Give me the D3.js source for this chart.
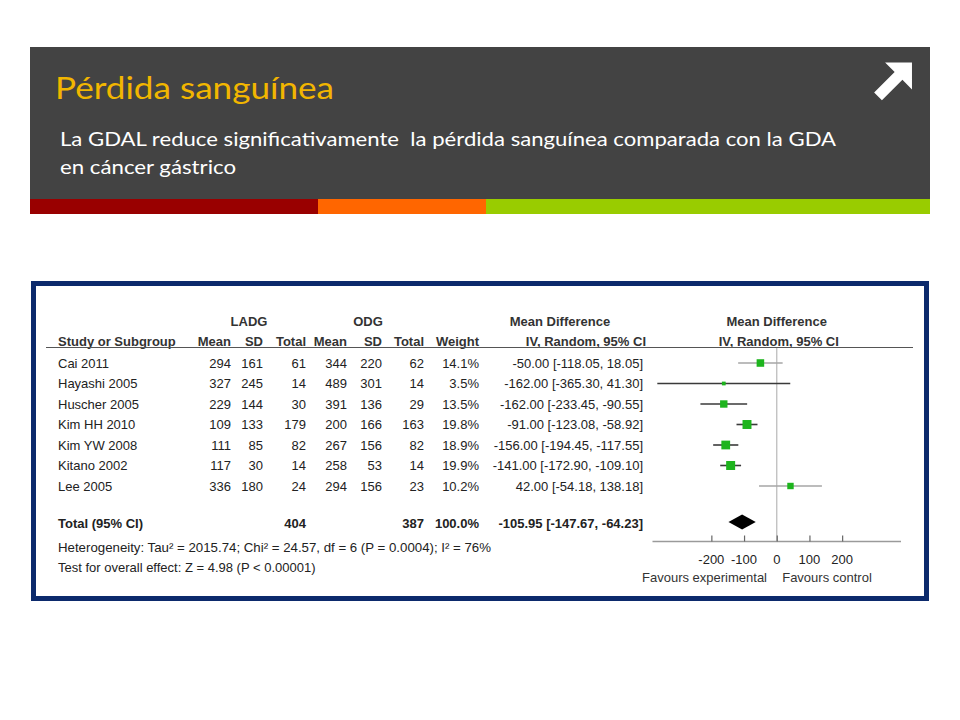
<!DOCTYPE html>
<html>
<head>
<meta charset="utf-8">
<script src="https://cdn.jsdelivr.net/npm/d3@7"></script>
<style>
  html, body { margin: 0; padding: 0; background: #ffffff; }
  svg { display: block; }
  text.pre { white-space: pre; }
</style>
</head>
<body>
<svg id="chart" width="960" height="720"></svg>
<script>
// ---------------- DATA ----------------
const titleText = "Pérdida sanguínea";
const subtitleLines = [
  "La GDAL reduce significativamente  la pérdida sanguínea comparada con la GDA",
  "en cáncer gástrico"
];
const studies   = ["Cai 2011", "Hayashi 2005", "Huscher 2005", "Kim HH 2010", "Kim YW 2008", "Kitano 2002", "Lee 2005"];
const ladgMean  = [294, 327, 229, 109, 111, 117, 336];
const ladgSD    = [161, 245, 144, 133, 85, 30, 180];
const ladgTotal = [61, 14, 30, 179, 82, 14, 24];
const odgMean   = [344, 489, 391, 200, 267, 258, 294];
const odgSD     = [220, 301, 136, 166, 156, 53, 156];
const odgTotal  = [62, 14, 29, 163, 82, 14, 23];
const weights   = [14.1, 3.5, 13.5, 19.8, 18.9, 19.9, 10.2];
const meanDiff  = [-50.00, -162.00, -162.00, -91.00, -156.00, -141.00, 42.00];
const ciLow     = [-118.05, -365.30, -233.45, -123.08, -194.45, -172.90, -54.18];
const ciHigh    = [18.05, 41.30, -90.55, -58.92, -117.55, -109.10, 138.18];
const totalLADG = 404;
const totalODG  = 387;
const totalWeight = 100.0;
const pooled    = [-105.95, -147.67, -64.23]; // estimate, low, high
const heterogeneityText = "Heterogeneity: Tau² = 2015.74; Chi² = 24.57, df = 6 (P = 0.0004); I² = 76%";
const overallText = "Test for overall effect: Z = 4.98 (P < 0.00001)";
const axisTicks = [-200, -100, 0, 100, 200];
const favoursLabels = ["Favours experimental", "Favours control"];
const groupHeaders = ["LADG", "ODG"];
const colHeaders = ["Study or Subgroup", "Mean", "SD", "Total", "Mean", "SD", "Total", "Weight", "IV, Random, 95% CI"];
const mdHeader = "Mean Difference";
const plotHeader = ["Mean Difference", "IV, Random, 95% CI"];
// styling only (CI lines drawn lighter in the reference)
const lightLineStudies = ["Cai 2011", "Lee 2005"];

// ---------------- DRAW ----------------
const svg = d3.select("#chart");
const loc = d3.formatLocale({decimal: ".", thousands: ",", grouping: [3], currency: ["", ""], minus: "-"});
const f2 = loc.format(".2f");
const f1 = loc.format(".1f");
const f0 = loc.format("d");

// Header panel
svg.append("rect").attr("x", 30).attr("y", 47).attr("width", 900).attr("height", 152).attr("fill", "#434343");
const bars = [
  {x: 30, w: 288, c: "#990000"},
  {x: 318, w: 168, c: "#ff6600"},
  {x: 486, w: 444, c: "#99cc00"}
];
svg.selectAll("rect.bar").data(bars).enter().append("rect")
  .attr("class", "bar")
  .attr("x", d => d.x).attr("y", 199).attr("width", d => d.w).attr("height", 15)
  .attr("fill", d => d.c);

svg.append("text")
  .attr("x", 55).attr("y", 99)
  .attr("font-family", "Lato, 'Open Sans', sans-serif")
  .attr("font-size", 31)
  .attr("fill", "#f2b600")
  .attr("textLength", 279).attr("lengthAdjust", "spacingAndGlyphs")
  .text(titleText);

const subW = [776, 176];
subtitleLines.forEach((t, i) => {
  svg.append("text")
    .attr("class", "pre")
    .attr("x", 60).attr("y", 146 + i * 28)
    .attr("font-family", "Lato, 'Open Sans', sans-serif")
    .attr("font-size", 20)
    .attr("fill", "#ffffff")
    .attr("textLength", subW[i]).attr("lengthAdjust", "spacingAndGlyphs")
    .text(t);
});

// Arrow icon
(function () {
  const pts = [[-24, -5.5], [5, -5.5], [5, -19], [24, 0], [5, 19], [5, 5.5], [-24, 5.5]];
  const a = -Math.PI / 4, cx = 895, cy = 79.5;
  const rp = pts.map(([x, y]) => [cx + x * Math.cos(a) - y * Math.sin(a), cy + x * Math.sin(a) + y * Math.cos(a)]);
  svg.append("path").attr("d", d3.line()(rp) + "Z").attr("fill", "#ffffff");
})();

// Forest plot frame
svg.append("rect").attr("x", 33.5).attr("y", 283.5).attr("width", 893).attr("height", 315)
  .attr("fill", "#ffffff").attr("stroke", "#0c2a6c").attr("stroke-width", 5);

const fontTable = "'Liberation Sans', Arial, sans-serif";
const g = svg.append("g").attr("font-family", fontTable).attr("font-size", 13).attr("fill", "#222");

// Column positions
const colX = {
  study: 58, lMean: 231, lSD: 263, lTot: 306, oMean: 347, oSD: 382, oTot: 424, weight: 479, md: 643
};

// Group headers
g.append("text").attr("x", 249).attr("y", 325.5).attr("text-anchor", "middle").attr("font-weight", "bold").attr("fill", "#333").text(groupHeaders[0]);
g.append("text").attr("x", 368).attr("y", 325.5).attr("text-anchor", "middle").attr("font-weight", "bold").attr("fill", "#333").text(groupHeaders[1]);
g.append("text").attr("x", 560).attr("y", 325.5).attr("text-anchor", "middle").attr("font-weight", "bold").attr("fill", "#333").text(mdHeader);

// Column headers
const headerPos = [
  [colX.study, "start"], [colX.lMean, "end"], [colX.lSD, "end"], [colX.lTot, "end"],
  [colX.oMean, "end"], [colX.oSD, "end"], [colX.oTot, "end"], [colX.weight, "end"], [colX.md + 3, "end"]
];
colHeaders.forEach((h, i) => {
  g.append("text").attr("x", headerPos[i][0]).attr("y", 346)
    .attr("text-anchor", headerPos[i][1]).attr("font-weight", "bold").attr("fill", "#333").text(h);
});

// Scales
const x = d3.scaleLinear().domain([-380, 380]).range([652.5, 901]);
const y = d3.scalePoint().domain(studies).range([363, 486]);
const boxSize = d3.scaleSqrt().domain([0, 20]).range([0, 9]);

// Plot headers
g.append("text").attr("x", x(0)).attr("y", 325.5).attr("text-anchor", "middle").attr("font-weight", "bold").attr("fill", "#333").text(plotHeader[0]);
g.append("text").attr("x", x(0) + 2).attr("y", 346).attr("text-anchor", "middle").attr("font-weight", "bold").attr("fill", "#333").text(plotHeader[1]);

// Header rule
svg.append("line").attr("x1", 46).attr("x2", 913).attr("y1", 347.5).attr("y2", 347.5)
  .attr("stroke", "#555").attr("stroke-width", 1.2);

// Rows
const rows = studies.map((s, i) => ({
  s, lm: ladgMean[i], lsd: ladgSD[i], lt: ladgTotal[i],
  om: odgMean[i], osd: odgSD[i], ot: odgTotal[i],
  w: weights[i], md: meanDiff[i], lo: ciLow[i], hi: ciHigh[i]
}));

const rowG = g.selectAll("g.row").data(rows).enter().append("g").attr("class", "row")
  .attr("transform", d => `translate(0,${y(d.s) + 4.5})`);
rowG.append("text").attr("x", colX.study).text(d => d.s);
[["lMean", "lm"], ["lSD", "lsd"], ["lTot", "lt"], ["oMean", "om"], ["oSD", "osd"], ["oTot", "ot"]].forEach(([c, k]) => {
  rowG.append("text").attr("x", colX[c]).attr("text-anchor", "end").text(d => f0(d[k]));
});
rowG.append("text").attr("x", colX.weight).attr("text-anchor", "end").text(d => f1(d.w) + "%");
rowG.append("text").attr("x", colX.md).attr("text-anchor", "end")
  .text(d => `${f2(d.md)} [${f2(d.lo)}, ${f2(d.hi)}]`);

// Zero line
svg.append("line").attr("x1", x(0)).attr("x2", x(0)).attr("y1", 348).attr("y2", 541.5)
  .attr("stroke", "#bdbdbd").attr("stroke-width", 1.3);

// CI lines and boxes
const plotG = svg.append("g");
plotG.selectAll("line.ci").data(rows).enter().append("line").attr("class", "ci")
  .attr("x1", d => x(d.lo)).attr("x2", d => x(d.hi))
  .attr("y1", d => y(d.s)).attr("y2", d => y(d.s))
  .attr("stroke", d => lightLineStudies.includes(d.s) ? "#a6a6a6" : "#3a3a3a")
  .attr("stroke-width", d => lightLineStudies.includes(d.s) ? 1.3 : 1.6);
plotG.selectAll("rect.box").data(rows).enter().append("rect").attr("class", "box")
  .attr("x", d => x(d.md) - boxSize(d.w) / 2)
  .attr("y", d => y(d.s) - boxSize(d.w) / 2)
  .attr("width", d => boxSize(d.w)).attr("height", d => boxSize(d.w))
  .attr("fill", "#1db41d");

// Total row
const totalY = 523;
const tg = g.append("g").attr("transform", `translate(0,${totalY + 4.5})`).attr("font-weight", "bold");
tg.append("text").attr("x", colX.study).text("Total (95% CI)");
tg.append("text").attr("x", colX.lTot).attr("text-anchor", "end").text(totalLADG);
tg.append("text").attr("x", colX.oTot).attr("text-anchor", "end").text(totalODG);
tg.append("text").attr("x", colX.weight).attr("text-anchor", "end").text(f1(totalWeight) + "%");
tg.append("text").attr("x", colX.md).attr("text-anchor", "end")
  .text(`${f2(pooled[0])} [${f2(pooled[1])}, ${f2(pooled[2])}]`);

// Diamond
svg.append("path")
  .attr("d", d3.line()([[x(pooled[1]), totalY - 1], [x(pooled[0]), totalY - 8.5], [x(pooled[2]), totalY - 1], [x(pooled[0]), totalY + 6.5]]) + "Z")
  .attr("fill", "#000");

// Footer text
g.append("text").attr("x", colX.study).attr("y", 552).attr("textLength", 433).attr("lengthAdjust", "spacingAndGlyphs").text(heterogeneityText);
g.append("text").attr("x", colX.study).attr("y", 571.5).text(overallText);

// Axis
const axisY = 541.5;
const axisG = svg.append("g").attr("transform", `translate(0,${axisY})`);
axisG.append("line").attr("x1", x.range()[0]).attr("x2", x.range()[1]).attr("stroke", "#9a9a9a").attr("stroke-width", 1.3);
const axis = d3.axisTop(x).tickValues(axisTicks).tickSize(6).tickFormat("");
const ax = axisG.append("g").call(axis);
ax.select(".domain").remove();
ax.selectAll(".tick line").attr("stroke", "#666").attr("stroke-width", 1.2);
axisG.selectAll("text.tl").data(axisTicks).enter().append("text").attr("class", "tl")
  .attr("x", d => x(d)).attr("y", 22)
  .attr("text-anchor", "middle")
  .attr("font-family", fontTable).attr("font-size", 13).attr("fill", "#222")
  .text(d => f0(d));
axisG.append("text").attr("x", 704.5).attr("y", 40.5).attr("text-anchor", "middle")
  .attr("font-family", fontTable).attr("font-size", 13).attr("fill", "#333").text(favoursLabels[0]);
axisG.append("text").attr("x", 827).attr("y", 40.5).attr("text-anchor", "middle")
  .attr("font-family", fontTable).attr("font-size", 13).attr("fill", "#333").text(favoursLabels[1]);
</script>
</body>
</html>
